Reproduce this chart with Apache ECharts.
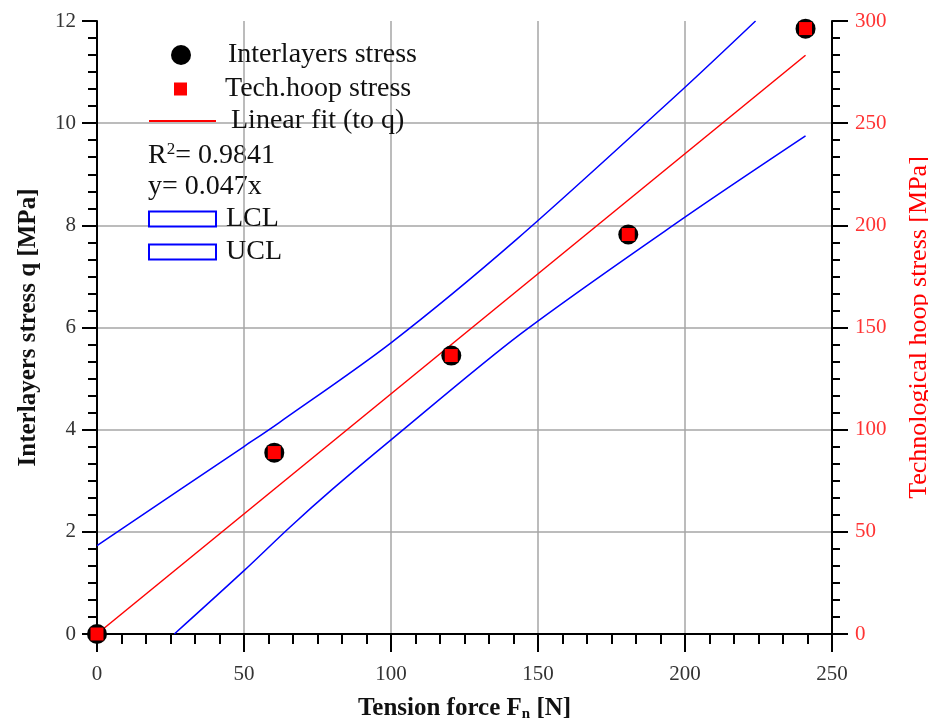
<!DOCTYPE html>
<html>
<head>
<meta charset="utf-8">
<script src="https://cdn.jsdelivr.net/npm/echarts@6/dist/echarts.min.js"></script>
<style>html,body{margin:0;padding:0;background:#fff}#c{width:928px;height:720px}</style>
</head>
<body>
<div id="c"></div>
<script>
// ---- data ----
var forceN = [0, 60.3, 120.5, 180.7, 241];          // tension force F_n [N]
var interlayerQ = [0, 3.55, 5.45, 7.82, 11.85];     // interlayers stress q [MPa]
var hoopStress = [0, 88.8, 136.3, 195.5, 296.3];    // technological hoop stress [MPa]
var fitX = [0, 241];
var fitY = [0, 11.33];                              // y = 0.047x
var lclX = [26.3, 50, 65.6, 80, 100, 144, 199, 241];
var lclY = [0, 1.24, 2.09, 2.83, 3.80, 5.87, 8.12, 9.75];
var uclX = [0, 50, 62, 100, 143, 199, 224];
var uclY = [1.73, 3.67, 4.14, 5.70, 7.74, 10.65, 12.0];
var xTicks = [0, 50, 100, 150, 200, 250];
var qTicks = [0, 2, 4, 6, 8, 10, 12];
var hoopTicks = [0, 50, 100, 150, 200, 250, 300];
var r2Text = '0.9841';
var eqText = '0.047x';

function zip(a, b) { return a.map(function (v, i) { return [v, b[i]]; }); }

var FONT = 'Liberation Serif';
var chart = echarts.init(document.getElementById('c'), null, { renderer: 'canvas' });

function legendBox(name, left, top, w, h, textPad, extra) {
  return Object.assign({
    data: [name], left: left, top: top, padding: 0,
    itemWidth: w, itemHeight: h, selectedMode: false,
    textStyle: { fontFamily: FONT, fontSize: 28, color: '#111', padding: [0, 0, 0, textPad] }
  }, extra || {});
}

var option = {
  animation: false,
  backgroundColor: '#fff',
  grid: { left: 97, right: 96, top: 21, bottom: 86, containLabel: false, outerBoundsMode: 'none' },
  xAxis: {
    type: 'value', min: xTicks[0], max: xTicks[xTicks.length - 1], interval: 50,
    name: 'Tension force F{sub|n} [N]', nameLocation: 'middle', nameGap: 61,
    nameTextStyle: { fontFamily: FONT, fontWeight: 'bold', fontSize: 25, color: '#111',
      rich: { sub: { fontFamily: FONT, fontWeight: 'bold', fontSize: 15, color: '#111', padding: [12, 0, 0, 0] } } },
    axisLine: { show: true, lineStyle: { color: '#000', width: 2 } },
    axisTick: { show: true, length: 18, lineStyle: { color: '#000', width: 2 } },
    minorTick: { show: true, splitNumber: 6, length: 10, lineStyle: { color: '#000', width: 2 } },
    axisLabel: { margin: 30, fontFamily: FONT, fontSize: 21, color: '#333' },
    splitLine: { show: true, showMinLine: false, showMaxLine: false, lineStyle: { color: '#a6a6a6', width: 1.5 } }
  },
  yAxis: [{
    type: 'value', min: qTicks[0], max: qTicks[qTicks.length - 1], interval: 2, position: 'left',
    name: 'Interlayers stress q [MPa]', nameLocation: 'middle', nameGap: 56, nameRotate: 90,
    nameTextStyle: { fontFamily: FONT, fontWeight: 'bold', fontSize: 25, color: '#111' },
    axisLine: { show: true, lineStyle: { color: '#000', width: 2 } },
    axisTick: { show: true, length: 15, lineStyle: { color: '#000', width: 2 } },
    minorTick: { show: true, splitNumber: 6, length: 9, lineStyle: { color: '#000', width: 2 } },
    axisLabel: { margin: 21, fontFamily: FONT, fontSize: 21, color: '#333' },
    splitLine: { show: true, showMinLine: false, showMaxLine: false, lineStyle: { color: '#a6a6a6', width: 1.5 } }
  }, {
    type: 'value', min: hoopTicks[0], max: hoopTicks[hoopTicks.length - 1], interval: 50, position: 'right',
    name: 'Technological hoop stress [MPa]', nameLocation: 'middle', nameGap: 74, nameRotate: 90,
    nameTextStyle: { fontFamily: FONT, fontSize: 26, color: '#ff0000' },
    axisLine: { show: true, lineStyle: { color: '#000', width: 2 } },
    axisTick: { show: true, length: 16, lineStyle: { color: '#000', width: 2 } },
    minorTick: { show: true, splitNumber: 6, length: 8, lineStyle: { color: '#000', width: 2 } },
    axisLabel: { margin: 23, fontFamily: FONT, fontSize: 21, color: '#ff3333' },
    splitLine: { show: false }
  }],
  legend: [
    legendBox('Interlayers stress', 171, 41, 20, 20, 32),
    legendBox('Tech.hoop stress', 174, 75, 13, 13, 33, { icon: 'rect' }),
    legendBox('Linear fit (to q)', 148, 107, 67, 16, 10, { itemStyle: { opacity: 0 } }),
    legendBox('LCL', 148, 205, 67, 15, 5, { icon: 'rect', itemStyle: { color: '#fff', borderColor: '#0000ff', borderWidth: 2 } }),
    legendBox('UCL', 148, 238, 67, 15, 5, { icon: 'rect', itemStyle: { color: '#fff', borderColor: '#0000ff', borderWidth: 2 } })
  ],
  graphic: [
    { type: 'text', left: 148, top: 141, style: {
      text: 'R{sup|2}= ' + r2Text, font: '28px "Liberation Serif"', fill: '#111',
      rich: { sup: { fontFamily: FONT, fontSize: 17, fill: '#111', padding: [0, 0, 12, 0] } } } },
    { type: 'text', left: 148, top: 173, style: {
      text: 'y= ' + eqText, font: '28px "Liberation Serif"', fill: '#111' } }
  ],
  series: [
    {
      name: 'LCL', type: 'line', yAxisIndex: 0, data: zip(lclX, lclY), symbol: 'none', smooth: 0.3,
      lineStyle: { color: '#0000ff', width: 1.5 }, itemStyle: { color: '#0000ff' }, z: 2
    },
    {
      name: 'UCL', type: 'line', yAxisIndex: 0, data: zip(uclX, uclY), symbol: 'none', smooth: 0.3,
      lineStyle: { color: '#0000ff', width: 1.5 }, itemStyle: { color: '#0000ff' }, z: 2
    },
    {
      name: 'Linear fit (to q)', type: 'line', yAxisIndex: 0, data: zip(fitX, fitY), symbol: 'none',
      lineStyle: { color: '#ff0000', width: 1.5 }, itemStyle: { color: '#ff0000' }, z: 3
    },
    {
      name: 'Interlayers stress', type: 'scatter', yAxisIndex: 0, data: zip(forceN, interlayerQ),
      symbol: 'circle', symbolSize: 20, itemStyle: { color: '#000', opacity: 1 }, z: 4
    },
    {
      name: 'Tech.hoop stress', type: 'scatter', yAxisIndex: 1, data: zip(forceN, hoopStress),
      symbol: 'rect', symbolSize: 13, itemStyle: { color: '#ff0000', opacity: 1 }, z: 5
    }
  ]
};
chart.setOption(option);
</script>
</body>
</html>
